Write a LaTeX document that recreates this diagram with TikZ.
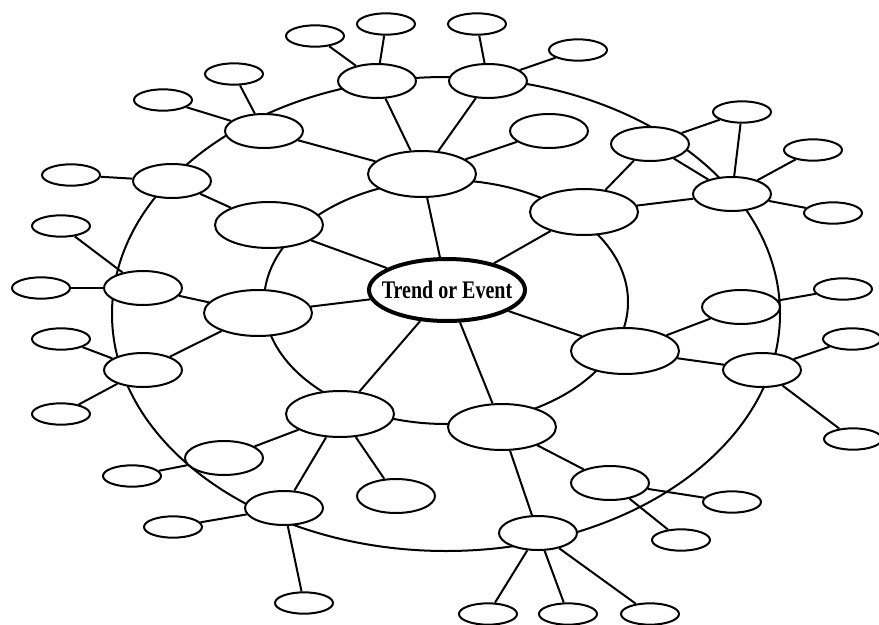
\documentclass[tikz,border=0pt]{standalone}
\usepackage{fontspec}
\setmainfont{Liberation Serif}
\usetikzlibrary{shapes.geometric}

\begin{document}
\begin{tikzpicture}[x=0.75pt,y=-0.75pt,
	centro/.style={ellipse,draw,fill=white,line width=3pt,inner xsep=-8.5pt,inner ysep=0pt,minimum width=117pt,minimum height=46.5pt},
	medio/.style={ellipse,draw,fill=white,line width=1.5pt,inner sep=0pt,minimum width=81pt,minimum height=34.5pt},
	ext/.style={ellipse,draw,fill=white,line width=1.5pt,inner sep=0pt,minimum width=58.5pt,minimum height=25.5pt},
	folha/.style={ellipse,draw,fill=white,line width=1.5pt,inner sep=0pt,minimum width=43.5pt,minimum height=16pt},
	liga/.style={line width=1.5pt}] %Início do mapa
	\useasboundingbox (0,0) rectangle (879,625); %Moldura
		%Anéis
	\draw[liga] (446,314) ellipse [x radius=334,y radius=237]; %Anel externo
	\draw[liga] (446,302) ellipse [x radius=182,y radius=122]; %Anel interno
		%Centro
	\node[centro] (c) at (447,290) {\fontsize{19}{22}\selectfont\bfseries\scalebox{0.79}[1]{Trend or Event}};
		%Anel interno
	\node[medio] (i1) at (422,174) {};
	\node[medio] (i2) at (584,212) {};
	\node[medio] (i3) at (269,225) {};
	\node[medio] (i4) at (258,313) {};
	\node[medio] (i5) at (625,351) {};
	\node[medio] (i6) at (340,414) {};
	\node[medio] (i7) at (502,427) {};
		%Anel externo
	\node[ext] (o1) at (377,81) {};
	\node[ext] (o2) at (488,81) {};
	\node[ext] (o3) at (264,131) {};
	\node[ext] (o4) at (172,181) {};
	\node[ext] (o5) at (143,288) {};
	\node[ext] (o6) at (143,370) {};
	\node[ext] (o7) at (224,458) {};
	\node[ext] (o8) at (284,508) {};
	\node[ext] (o9) at (538,533) {};
	\node[ext] (o10) at (610,483) {};
	\node[ext] (o11) at (762,370) {};
	\node[ext] (o12) at (741,307) {};
	\node[ext] (o13) at (732,194) {};
	\node[ext] (o14) at (650,144) {};
	\node[ext] (a1) at (549,131) {}; %Soltos
	\node[ext] (a2) at (396,496) {};
		%Folhas
	\node[folha] (f1) at (315,36) {};
	\node[folha] (f2) at (386,24) {};
	\node[folha] (f3) at (477,24) {};
	\node[folha] (f4) at (578,50) {};
	\node[folha] (f5) at (234,74) {};
	\node[folha] (f6) at (163,100) {};
	\node[folha] (f7) at (71,175) {};
	\node[folha] (f8) at (61,226) {};
	\node[folha] (f9) at (41,288) {};
	\node[folha] (f10) at (61,339) {};
	\node[folha] (f11) at (61,414) {};
	\node[folha] (f12) at (132,476) {};
	\node[folha] (f13) at (173,527) {};
	\node[folha] (f14) at (304,603) {};
	\node[folha] (f15) at (488,614) {};
	\node[folha] (f16) at (568,614) {};
	\node[folha] (f17) at (650,614) {};
	\node[folha] (f18) at (681,540) {};
	\node[folha] (f19) at (732,502) {};
	\node[folha] (f20) at (853,439) {};
	\node[folha] (f21) at (852,339) {};
	\node[folha] (f22) at (843,289) {};
	\node[folha] (f23) at (833,213) {};
	\node[folha] (f24) at (813,150) {};
	\node[folha] (f25) at (742,112) {};
		%Ligações
	\foreach \a/\b in {c/i1,c/i2,c/i3,c/i4,c/i5,c/i6,c/i7,
		i1/o1,i1/o2,i1/a1,i1/o3,i2/o14,i2/o13,i3/o4,i4/o5,i4/o6,
		i6/o7,i6/o8,i6/a2,i7/o9,i7/o10,i5/o11,i5/o12,o14/o13}
		\draw[liga] (\a) -- (\b);
	\foreach \a/\b in {o1/f1,o1/f2,o2/f3,o2/f4,o3/f5,o3/f6,o4/f7,o5/f8,o5/f9,
		o6/f10,o6/f11,o7/f12,o8/f13,o8/f14,o9/f15,o9/f16,o9/f17,o10/f18,o10/f19,
		o11/f20,o11/f21,o12/f22,o13/f23,o13/f24,o13/f25,o14/f25}
		\draw[liga] (\a) -- (\b);
\end{tikzpicture}
\end{document}
